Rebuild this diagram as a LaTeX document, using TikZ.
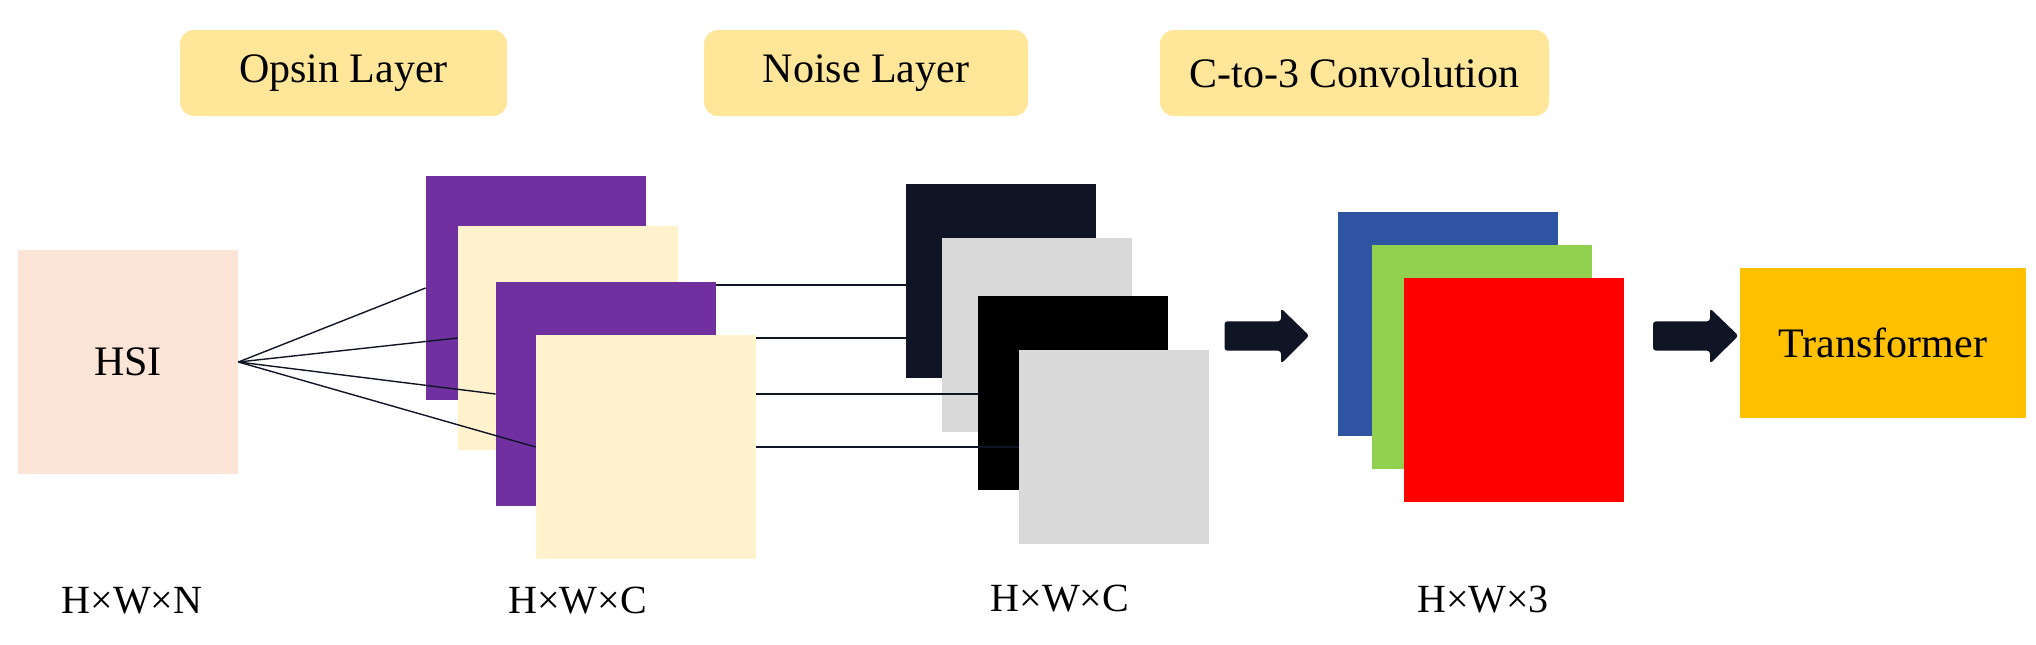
\documentclass[tikz,border=0pt]{standalone}
\usepackage{fontspec}
\setmainfont{Liberation Serif}
\definecolor{hsicol}{HTML}{FCE4D6}
\definecolor{creamcol}{HTML}{FFF2CC}
\definecolor{purplecol}{HTML}{7030A0}
\definecolor{navycol}{HTML}{0F1524}
\definecolor{graycol}{HTML}{D9D9D9}
\definecolor{bluecol}{HTML}{2F55A2}
\definecolor{greencol}{HTML}{92D050}
\definecolor{redcol}{HTML}{FF0000}
\definecolor{transcol}{HTML}{FFC000}
\definecolor{labelcol}{HTML}{FFE699}
\begin{document}
\begin{tikzpicture}[x=0.5pt,y=-0.5pt,
  sheet/.style={inner sep=0pt, minimum width=110pt, minimum height=112pt},
  nsheet/.style={inner sep=0pt, minimum width=95pt, minimum height=97pt},
  lbl/.style={fill=labelcol, rounded corners=7pt, minimum height=43pt, inner sep=0pt, font=\fontsize{21}{25}\selectfont},
  dimlbl/.style={anchor=base, inner sep=0pt, font=\fontsize{20}{24}\selectfont},
  conn/.style={draw=navycol, line width=0.7pt},
  blockarrow/.style={fill=navycol, rounded corners=1.5pt}]
\useasboundingbox (0,0) rectangle (2036,644);

% top labels
\node[lbl, minimum width=163.5pt] (lopsin) at (343.5,73) {Opsin Layer};
\node[lbl, minimum width=162pt] (lnoise) at (866,73) {Noise Layer};
\node[lbl, minimum width=194.5pt] (lconv) at (1354.5,73) {C-to-3 Convolution};

% HSI
\node[sheet, fill=hsicol, font=\fontsize{21}{25}\selectfont] (hsi) at (128,362) {HSI};

% noise sheets
\node[nsheet, fill=navycol] (n1) at (1001,281) {};
\node[nsheet, fill=graycol] (n2) at (1037,335) {};
\node[nsheet, fill=black] (n3) at (1073,393) {};
\node[nsheet, fill=graycol] (n4) at (1114,447) {};

% opsin sheets (placed, drawn later)
\path (536,288) coordinate (p1c) (568,338) coordinate (c1c)
      (606,394) coordinate (p2c) (646,447) coordinate (c2c);
\node[sheet] (p1) at (p1c) {};
\node[sheet] (c1) at (c1c) {};
\node[sheet] (p2) at (p2c) {};
\node[sheet] (c2) at (c2c) {};

% right-side connectors (behind opsin sheets, over noise sheets)
\draw[conn] (p1.east) ++(0,-3) coordinate (p1e) -- (p1e -| n1.west);
\draw[conn] (c1.east) -- (c1.east -| n2.west);
\draw[conn] (p2.east) -- (p2.east -| n3.west);
\draw[conn] (c2.east) -- (c2.east -| n4.west);

% opsin sheets drawn
\fill[purplecol] (p1.north west) rectangle (p1.south east);
\fill[creamcol] (c1.north west) rectangle (c1.south east);
\fill[purplecol] (p2.north west) rectangle (p2.south east);
\fill[creamcol] (c2.north west) rectangle (c2.south east);

% left-side connectors
\draw[conn] (hsi.east) -- (p1.west);
\draw[conn] (hsi.east) -- (c1.west);
\draw[conn] (hsi.east) -- (p2.west);
\draw[conn] (hsi.east) -- (c2.west);

% block arrows
\fill[blockarrow] (1224.5,321.3) -- (1281,321.3) -- (1281,308.3) -- (1309.3,335.7)
  -- (1281,363.7) -- (1281,350.7) -- (1224.5,350.7) -- cycle;
\fill[blockarrow] (1653,321.3) -- (1710,321.3) -- (1710,308.3) -- (1738.5,335.7)
  -- (1710,363.7) -- (1710,350.7) -- (1653,350.7) -- cycle;

% RGB sheets
\node[sheet, fill=bluecol] (rb) at (1448,324) {};
\node[sheet, fill=greencol] (rg) at (1482,357) {};
\node[sheet, fill=redcol] (rr) at (1514,390) {};

% transformer
\node[inner sep=0pt, minimum width=143pt, minimum height=75pt, fill=transcol,
      font=\fontsize{21}{25}\selectfont] (tr) at (1883,343) {Transformer};

% dimension labels
\node[dimlbl] (d1) at (132,613) {H×W×N};
\node[dimlbl] (d2) at (577.5,613) {H×W×C};
\node[dimlbl] (d3) at (1060,611) {H×W×C};
\node[dimlbl] (d4) at (1483,612) {H×W×3};
\end{tikzpicture}
\end{document}
